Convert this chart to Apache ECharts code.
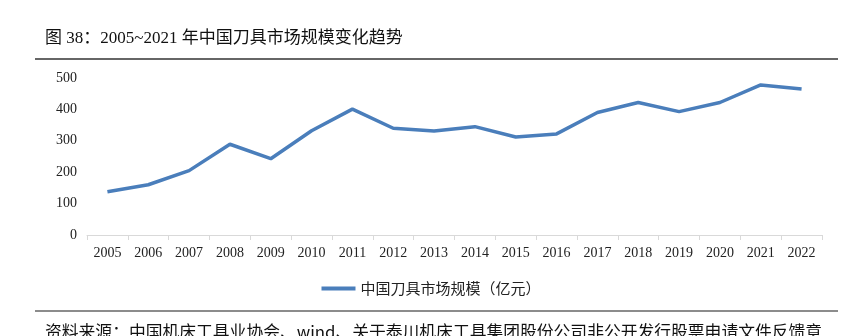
<!DOCTYPE html>
<html>
<head>
<meta charset="utf-8">
<script src="https://cdn.jsdelivr.net/npm/echarts@6/dist/echarts.min.js"></script>
<style>
  html, body { margin: 0; padding: 0; background: #fff; }
  #chart { width: 862px; height: 336px; }
</style>
</head>
<body>
<div id="chart"></div>
<script>
// China cutting-tool market size, 100 million yuan
const years = ['2005', '2006', '2007', '2008', '2009', '2010', '2011', '2012', '2013',
               '2014', '2015', '2016', '2017', '2018', '2019', '2020', '2021', '2022'];
const marketSize = [138, 160, 205, 289, 243, 332, 401, 340, 331,
                    345, 312, 322, 390, 422, 393, 422, 478, 465];
const seriesName = '中国刀具市场规模（亿元）';
const titleText = '图 38：2005~2021 年中国刀具市场规模变化趋势';
const sourceText = '资料来源：中国机床工具业协会、wind、关于泰川机床工具集团股份公司非公开发行股票申请文件反馈意';

const serif = '"Liberation Serif", "Noto Sans CJK SC", serif';
const sans = '"Noto Sans CJK SC", sans-serif';

const chart = echarts.init(document.getElementById('chart'), null, { renderer: 'canvas' });
chart.setOption({
  animation: false,
  backgroundColor: '#fff',
  grid: { left: 87, right: 40, top: 78, bottom: 101, containLabel: false },
  xAxis: {
    type: 'category',
    data: years,
    boundaryGap: true,
    axisLine: { lineStyle: { color: '#d9d9d9', width: 1 } },
    axisTick: { show: true, length: 5, lineStyle: { color: '#d9d9d9' } },
    axisLabel: { color: '#222', fontFamily: serif, fontSize: 14, margin: 11 }
  },
  yAxis: {
    type: 'value',
    min: 0, max: 500, interval: 100,
    axisLine: { show: false },
    axisTick: { show: false },
    splitLine: { show: false },
    axisLabel: { color: '#222', fontFamily: serif, fontSize: 14, margin: 10 }
  },
  legend: {
    data: [seriesName],
    top: 276,
    left: 'center',
    itemWidth: 34,
    itemHeight: 4,
    itemGap: 5,
    icon: 'rect',
    textStyle: { color: '#222', fontFamily: sans, fontSize: 15 }
  },
  series: [{
    name: seriesName,
    type: 'line',
    data: marketSize,
    symbol: 'none',
    lineStyle: { color: '#4a7ebb', width: 3.5 },
    itemStyle: { color: '#4a7ebb' }
  }],
  graphic: [
    {
      type: 'text', left: 45, top: 30,
      style: { text: titleText, fill: '#111', font: '17px ' + serif }
    },
    {
      type: 'line', shape: { x1: 35, y1: 59, x2: 838, y2: 59 },
      style: { stroke: '#333', lineWidth: 1.5 }
    },
    {
      type: 'line', shape: { x1: 35, y1: 311, x2: 838, y2: 311 },
      style: { stroke: '#8c8c8c', lineWidth: 2 }
    },
    {
      type: 'text', left: 45, top: 323,
      style: { text: sourceText, fill: '#111', font: '16.8px ' + sans }
    }
  ]
});
</script>
</body>
</html>
